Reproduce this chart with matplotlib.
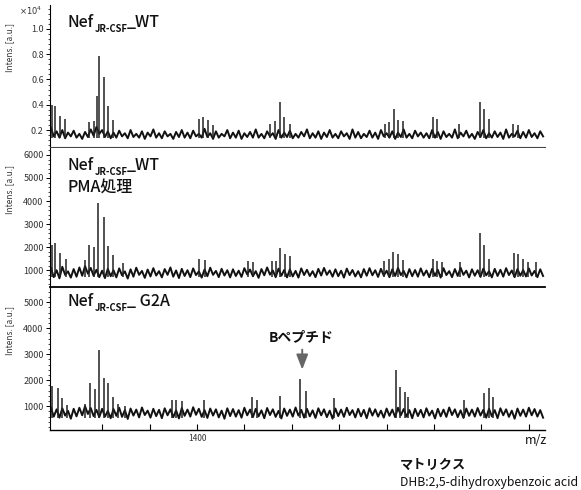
import matplotlib.pyplot as plt
from matplotlib.ticker import AutoMinorLocator, FixedLocator
import numpy as np

plt.rcParams["font.family"] = ["Noto Sans CJK JP", "DejaVu Sans"]

# m/z grid of the noisy baseline: start and step
mz_start = 1246
mz_step = 3

# panel 1: Nef JR-CSF WT (a.u., shown as x10^4)
wt_base = [
    2200, 1500, 1900, 1400, 2000, 1350, 1800, 1500, 1950, 1400, 1700, 1300,
    1850, 1450, 2050, 1550, 2250, 1700, 2000, 1450, 1900, 1350, 1800, 1400,
    1950, 1500, 1750, 1350, 2000, 1450, 1700, 1400, 1900, 1300, 1800, 1500,
    2050, 1400, 1750, 1350, 1900, 1500, 1700, 1300, 1850, 1450, 2000, 1400,
    1800, 1350, 1950, 1500, 1700, 1400, 2100, 1450, 1750, 1300, 1900, 1400,
    1700, 1500, 2000, 1350, 1800, 1400, 1950, 1300, 1750, 1450, 1850, 1400,
    2050, 1400, 1700, 1350, 1900, 1500, 1750, 1300, 2000, 1400, 1800, 1450,
    1950, 1350, 1700, 1400, 1850, 1500, 2050, 1350, 1750, 1400, 1900, 1300,
    1800, 1450, 2000, 1400, 1700, 1350, 1900, 1500, 1750, 1300, 2050, 1400,
    1850, 1350, 1700, 1450, 1950, 1400, 1800, 1300, 2000, 1500, 1750, 1400,
    1900, 1300, 1800, 1450, 2050, 1400, 1700, 1350, 1950, 1500, 1800, 1400,
    1750, 1350, 2000, 1400, 1850, 1300, 1900, 1450, 1700, 1400, 2050, 1350,
    1800, 1500, 1950, 1400, 1700, 1300, 1850, 1450, 2000, 1350, 1750, 1400,
    1900, 1450, 1800, 1300, 2050, 1400, 1700, 1500, 1950, 1350, 1850, 1400,
    2000, 1450, 1750, 1350, 1900, 1500,
]
wt_peak_mz = [1247, 1250, 1255.5, 1261, 1286, 1291, 1294.5, 1297, 1302, 1306,
              1311, 1402, 1406, 1412, 1417, 1477, 1482, 1487.5, 1492, 1498,
              1598, 1602.5, 1608, 1612, 1617, 1649, 1653, 1676, 1698.5, 1703,
              1708, 1733, 1739]
wt_peak_int = [4000, 3900, 3100, 2900, 2600, 2700, 4700, 7850, 6200, 3900,
               2800, 2900, 3000, 2800, 2400, 2500, 2700, 4200, 3000, 2500,
               2500, 2600, 3700, 2800, 2700, 3000, 2900, 2500, 4200, 3700,
               2900, 2500, 2400]

# panel 2: Nef JR-CSF WT, PMA treated (a.u.)
pma_base = [
    1100, 700, 1000, 650, 1150, 800, 950, 680, 1050, 720, 1120, 760,
    1180, 850, 1100, 760, 1020, 700, 980, 660, 1060, 740, 1000, 690,
    1080, 780, 950, 640, 1040, 720, 1110, 800, 970, 670, 1030, 730,
    1090, 770, 960, 690, 1050, 800, 1120, 720, 990, 660, 1060, 750,
    1000, 700, 1080, 790, 950, 680, 1030, 740, 1110, 800, 970, 700,
    1060, 770, 1000, 690, 1040, 750, 980, 710, 1090, 820, 1030, 740,
    960, 670, 1050, 780, 1120, 810, 990, 700, 1070, 760, 1010, 690,
    1040, 730, 970, 680, 1080, 790, 1020, 750, 960, 700, 1060, 770,
    1100, 800, 990, 720, 1040, 740, 980, 680, 1070, 790, 1010, 730,
    960, 690, 1050, 760, 1090, 780, 1000, 710, 1060, 770, 980, 700,
    1040, 750, 1100, 790, 970, 690, 1050, 740, 1010, 720, 1080, 770,
    990, 700, 1060, 760, 1020, 680, 1090, 790, 960, 700, 1050, 750,
    1110, 800, 980, 690, 1040, 760, 1000, 710, 1070, 780, 960, 690,
    1060, 750, 1020, 720, 1090, 790, 990, 700, 1050, 760, 1010, 730,
    1080, 770, 970, 700, 1040, 750,
]
pma_peak_mz = [1247, 1250, 1255.5, 1262, 1282, 1286, 1291, 1296, 1302, 1306,
               1311, 1322, 1402, 1408, 1454, 1459, 1479, 1483, 1487.5, 1493,
               1498, 1597, 1602, 1607, 1612, 1617, 1649, 1653, 1658, 1677,
               1698.5, 1703, 1708, 1734, 1739, 1743.5, 1749, 1758]
pma_peak_int = [2100, 2200, 1750, 1500, 1450, 2100, 2000, 3930, 3300, 2050,
                1650, 1300, 1500, 1450, 1400, 1350, 1400, 1400, 1950, 1700,
                1600, 1400, 1500, 1770, 1700, 1450, 1500, 1400, 1350, 1350,
                2600, 2100, 1500, 1750, 1700, 1500, 1350, 1350]

# panel 3: Nef JR-CSF G2A (a.u.)
g2a_base = [
    950, 600, 880, 560, 920, 640, 820, 520, 900, 610, 940, 650,
    1000, 700, 930, 620, 860, 580, 900, 600, 820, 540, 890, 630,
    940, 590, 850, 510, 910, 640, 870, 570, 950, 660, 830, 560,
    900, 620, 860, 540, 920, 650, 880, 580, 840, 530, 930, 630,
    870, 600, 960, 670, 900, 590, 850, 550, 910, 640, 880, 570,
    830, 520, 920, 620, 890, 600, 850, 560, 940, 650, 870, 580,
    900, 610, 840, 540, 930, 660, 880, 590, 820, 530, 910, 630,
    870, 600, 950, 640, 860, 560, 900, 610, 840, 550, 920, 650,
    880, 580, 830, 520, 910, 620, 870, 590, 940, 660, 850, 570,
    900, 610, 860, 540, 920, 640, 880, 600, 830, 560, 910, 630,
    870, 580, 940, 650, 890, 600, 850, 540, 900, 620, 860, 570,
    920, 640, 830, 530, 900, 610, 870, 590, 950, 660, 880, 580,
    840, 550, 910, 630, 870, 600, 930, 640, 860, 560, 900, 610,
    850, 540, 920, 650, 880, 590, 830, 520, 910, 630, 870, 600,
    940, 650, 890, 600, 850, 560,
]
g2a_peak_mz = [1247, 1253, 1258, 1263, 1282, 1287, 1292, 1297, 1302, 1306,
               1311, 1317, 1324, 1374, 1378, 1384, 1407, 1458, 1463, 1487.5,
               1509, 1515, 1545, 1610, 1614, 1619, 1623, 1682, 1703, 1708,
               1712]
g2a_peak_int = [1780, 1690, 1330, 1050, 1100, 1880, 1650, 3150, 2080, 1880,
                1350, 1100, 1000, 1230, 1250, 1200, 1250, 1350, 1250, 1400,
                2040, 1580, 1300, 2380, 1740, 1550, 1350, 1250, 1500, 1700,
                1350]

x_ticks = [1300, 1350, 1400, 1450, 1500, 1550, 1600, 1650, 1700, 1750]
x_tick_labels = ["", "", "1400", "", "", "", "", "", "", ""]

sub_name = "JR-CSF"


def sample_label(ax, x, y, rest):
    t = ax.text(x, y, "Nef", transform=ax.transAxes, fontsize=11.5,
                weight="medium", va="baseline", color="#111")
    s = ax.annotate(sub_name, xy=(1, y), xycoords=(t, ax.transAxes),
                    xytext=(0.3, -3.5), textcoords="offset points",
                    fontsize=6.8, weight="bold", va="baseline", ha="left",
                    color="#111")
    ax.annotate(rest, xy=(1, y), xycoords=(s, ax.transAxes),
                xytext=(0, 0), textcoords="offset points", fontsize=11.5,
                weight="medium", va="baseline", ha="left", color="#111")


def spectrum(ax, mz, base, peak_mz, peak_int, floor):
    ax.plot(mz, base, color="#111", lw=1.4)
    ax.vlines(peak_mz, floor, peak_int, color="#222", lw=1.1)
    ax.set_xlim(1245, 1767)
    ax.spines["top"].set_visible(False)
    ax.spines["right"].set_visible(False)
    ax.spines["left"].set_linewidth(0.8)
    ax.yaxis.set_minor_locator(AutoMinorLocator(5))
    ax.tick_params(axis="y", which="major", length=3, width=0.7,
                   labelsize=6.5, pad=1.5, labelcolor="#333")
    ax.tick_params(axis="y", which="minor", length=1.8, width=0.5)
    ax.set_ylabel("Intens. [a.u.]", fontsize=6, color="#333")
    ax.yaxis.set_label_coords(-0.072, 0.7)


fig = plt.figure(figsize=(5.81, 4.90), dpi=100)
ax1 = fig.add_axes([0.086, 0.700, 0.852, 0.290])
ax2 = fig.add_axes([0.086, 0.414, 0.852, 0.284])
ax3 = fig.add_axes([0.086, 0.122, 0.852, 0.290])

mz_grid = mz_start + mz_step * np.arange(len(wt_base))

# panel 1 is drawn in units of 10^4 a.u.
spectrum(ax1, mz_grid, np.array(wt_base) / 1e4, wt_peak_mz,
         np.array(wt_peak_int) / 1e4, 0.14)
ax1.set_ylim(0.066, 1.19)
ax1.yaxis.set_major_locator(FixedLocator([0.2, 0.4, 0.6, 0.8, 1.0]))
ax1.spines["bottom"].set_linestyle((0, (2, 1)))
ax1.spines["bottom"].set_color("#444")
ax1.text(-0.015, 0.955, r"$\times10^4$", transform=ax1.transAxes,
         fontsize=6, ha="right", va="center", color="#333")
sample_label(ax1, 0.036, 0.845, "_WT")

spectrum(ax2, mz_grid, pma_base, pma_peak_mz, pma_peak_int, 700)
ax2.set_ylim(267, 6300)
ax2.yaxis.set_major_locator(FixedLocator([1000, 2000, 3000, 4000, 5000, 6000]))
ax2.spines["bottom"].set_linewidth(1.3)
sample_label(ax2, 0.036, 0.84, "_WT")
ax2.text(0.036, 0.676, "PMA処理", transform=ax2.transAxes, fontsize=11.5,
         weight="medium", va="baseline", color="#111")

spectrum(ax3, mz_grid, g2a_base, g2a_peak_mz, g2a_peak_int, 550)
ax3.set_ylim(77, 5540)
ax3.yaxis.set_major_locator(FixedLocator([1000, 2000, 3000, 4000, 5000]))
ax3.spines["bottom"].set_linewidth(1.0)
sample_label(ax3, 0.036, 0.873, "_ G2A")

for ax in (ax1, ax2):
    ax.tick_params(axis="x", bottom=False, labelbottom=False)

ax3.xaxis.set_major_locator(FixedLocator(x_ticks))
ax3.set_xticklabels(x_tick_labels)
ax3.tick_params(axis="x", direction="in", length=4, width=0.8,
                labelsize=6, pad=3, labelcolor="#333")
ax3.text(1.005, -0.03, "m/z", transform=ax3.transAxes, fontsize=9,
         ha="right", va="top", color="#111")

# B peptide marker
ax3.text(1510, 3460, "Bペプチド", fontsize=10, weight="bold", ha="center",
         va="baseline", color="#111")
ax3.annotate("", xy=(1511, 2300), xytext=(1511, 3280),
             arrowprops=dict(arrowstyle="-|>,head_width=0.35,head_length=0.9",
                             color="#666", lw=1.4))

fig.text(400 / 581, 1 - 465 / 490, "マトリクス", fontsize=9.5, weight="bold",
         ha="left", va="center", color="#111")
fig.text(400 / 581, 1 - 482 / 490, "DHB:2,5-dihydroxybenzoic acid",
         fontsize=8.8, ha="left", va="center", color="#111")

fig.savefig("out.png", dpi=100)
